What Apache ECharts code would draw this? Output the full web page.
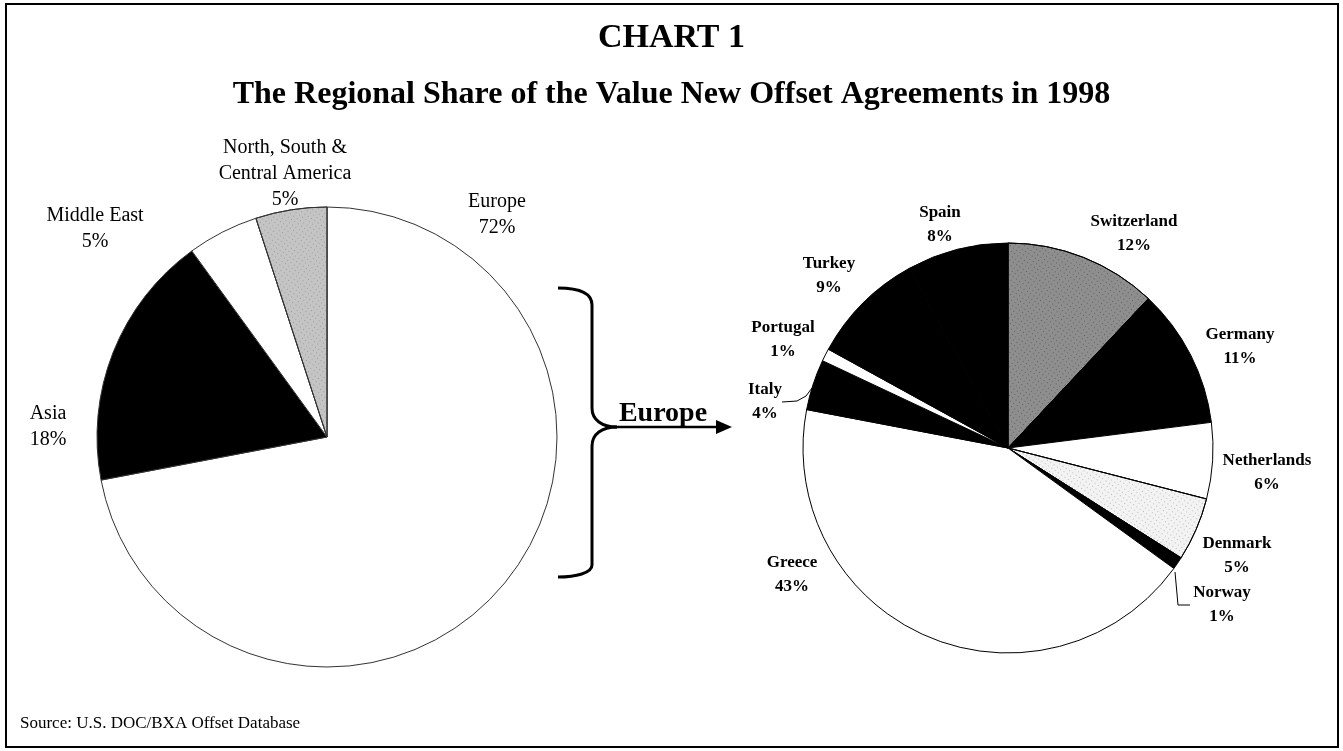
<!DOCTYPE html>
<html>
<head>
<meta charset="utf-8">
<title>Chart 1</title>
<script src="https://cdn.jsdelivr.net/npm/echarts@6/dist/echarts.min.js"></script>
<style>
  html, body { margin: 0; padding: 0; background: #fff; }
  #chart { width: 1343px; height: 751px; }
</style>
</head>
<body>
<div id="chart"></div>
<script>
// regional shares (left pie), clockwise from 12 o'clock
var regionNames = ['Europe', 'Asia', 'Middle East', 'North, South &\nCentral America'];
var regionValues = [72, 18, 5, 5];
var regionColors = ['#ffffff', '#000000', '#ffffff', '#c4c4c4'];

// European breakdown (right pie), clockwise from 12 o'clock
var europeNames = ['Switzerland', 'Germany', 'Netherlands', 'Denmark', 'Norway',
  'Greece', 'Italy', 'Portugal', 'Turkey', 'Spain'];
var europeValues = [12, 11, 6, 5, 1, 43, 4, 1, 9, 8];
var europeColors = ['#8e8e8e', '#000000', '#ffffff', '#f3f3f3', '#000000',
  '#ffffff', '#000000', '#ffffff', '#000000', '#000000'];

// where the labels sit (centre of each label block)
var regionLabelPos = [[497, 215], [48, 427], [95, 229], [285, 174]];
var europeLabelPos = [[1134, 234], [1240, 347], [1267, 473], [1237, 556], [1222, 605],
  [792, 575], [765, 402], [783, 340], [829, 276], [940, 225]];

var serif = '"Liberation Serif", "DejaVu Serif", serif';

function stipple(dark) {
  return {
    symbol: 'rect',
    symbolSize: 1,
    color: dark ? 'rgba(40,40,40,0.45)' : 'rgba(80,80,80,0.35)',
    dashArrayX: [1, 3],
    dashArrayY: [1, 3],
    rotation: 0.6
  };
}

function buildData(names, values, colors, decals) {
  return names.map(function (n, i) {
    var item = { name: n, value: values[i], itemStyle: { color: colors[i] } };
    if (decals[i]) item.itemStyle.decal = decals[i];
    return item;
  });
}

// little helpers for the brace
function curve(x1, y1, cx1, cy1, cx2, cy2, x2, y2) {
  return {
    type: 'bezierCurve',
    shape: { x1: x1, y1: y1, cpx1: cx1, cpy1: cy1, cpx2: cx2, cpy2: cy2, x2: x2, y2: y2 },
    style: { fill: 'none', stroke: '#000', lineWidth: 3 },
    silent: true
  };
}
function seg(x1, y1, x2, y2, w) {
  return {
    type: 'line',
    shape: { x1: x1, y1: y1, x2: x2, y2: y2 },
    style: { stroke: '#000', lineWidth: w || 3 },
    silent: true
  };
}

var myChart = echarts.init(document.getElementById('chart'));
var option = {
  backgroundColor: '#fff',
  animation: false,
  title: [
    {
      text: 'CHART 1',
      left: 'center',
      top: 16,
      textStyle: { fontFamily: serif, fontWeight: 'bold', fontSize: 34, color: '#000' }
    },
    {
      text: 'The Regional Share of the Value New Offset Agreements in 1998',
      left: 'center',
      top: 74,
      textStyle: { fontFamily: serif, fontWeight: 'bold', fontSize: 32, color: '#000' }
    },
    {
      text: 'Source: U.S. DOC/BXA Offset Database',
      left: 15,
      top: 710,
      textStyle: { fontFamily: serif, fontWeight: 'normal', fontSize: 17, color: '#000' }
    }
  ],
  series: [
    {
      type: 'pie',
      center: [327, 437],
      radius: 230,
      startAngle: 90,
      clockwise: true,
      silent: true,
      data: buildData(regionNames, regionValues, regionColors, [null, null, null, stipple(false)]),
      itemStyle: { borderColor: '#333', borderWidth: 1 },
      label: {
        show: true,
        formatter: '{b}\n{c}%',
        fontFamily: serif,
        fontSize: 20,
        lineHeight: 26,
        color: '#000',
        align: 'center',
        overflow: 'none'
      },
      labelLine: { show: false },
      labelLayout: function (params) {
        var p = regionLabelPos[params.dataIndex];
        return { x: p[0], y: p[1], align: 'center', verticalAlign: 'middle' };
      }
    },
    {
      type: 'pie',
      center: [1008, 448],
      radius: 205,
      startAngle: 90,
      clockwise: true,
      silent: true,
      data: buildData(europeNames, europeValues, europeColors,
        [stipple(true), null, null, stipple(false), null, null, null, null, null, null]),
      itemStyle: { borderColor: '#000', borderWidth: 1 },
      label: {
        show: true,
        formatter: '{b}\n{c}%',
        fontFamily: serif,
        fontWeight: 'bold',
        fontSize: 17,
        lineHeight: 24,
        color: '#000',
        align: 'center',
        overflow: 'none'
      },
      labelLine: { show: false },
      labelLayout: function (params) {
        var p = europeLabelPos[params.dataIndex];
        return { x: p[0], y: p[1], align: 'center', verticalAlign: 'middle' };
      }
    }
  ],
  graphic: [
    {
      type: 'rect',
      shape: { x: 6, y: 4, width: 1332, height: 743 },
      style: { fill: 'none', stroke: '#000', lineWidth: 2 },
      silent: true
    },
    // brace
    curve(558, 288, 576, 288, 592, 292, 592, 305),
    seg(592, 305, 592, 408),
    curve(592, 408, 592, 420, 602, 427, 617, 427),
    curve(617, 427, 602, 427, 592, 434, 592, 446),
    seg(592, 446, 592, 565),
    curve(592, 565, 592, 573, 576, 577, 558, 577),
    // arrow
    seg(617, 427, 718, 427, 2.5),
    {
      type: 'polygon',
      shape: { points: [[716, 420], [732, 427], [716, 434]] },
      style: { fill: '#000' },
      silent: true
    },
    {
      type: 'text',
      x: 663,
      y: 414,
      style: {
        text: 'Europe',
        font: 'bold 28px ' + serif,
        fill: '#000',
        textAlign: 'center',
        textVerticalAlign: 'middle'
      },
      silent: true
    },
    {
      // Italy leader
      type: 'polyline',
      shape: { points: [[782, 402], [797, 401], [806, 396], [812, 388]] },
      style: { fill: 'none', stroke: '#000', lineWidth: 1 },
      silent: true
    },
    {
      // Norway leader
      type: 'polyline',
      shape: { points: [[1175, 572], [1178, 605], [1190, 605]] },
      style: { fill: 'none', stroke: '#000', lineWidth: 1 },
      silent: true
    }
  ]
};
myChart.setOption(option);
window.onresize = myChart.resize;
</script>
</body>
</html>
